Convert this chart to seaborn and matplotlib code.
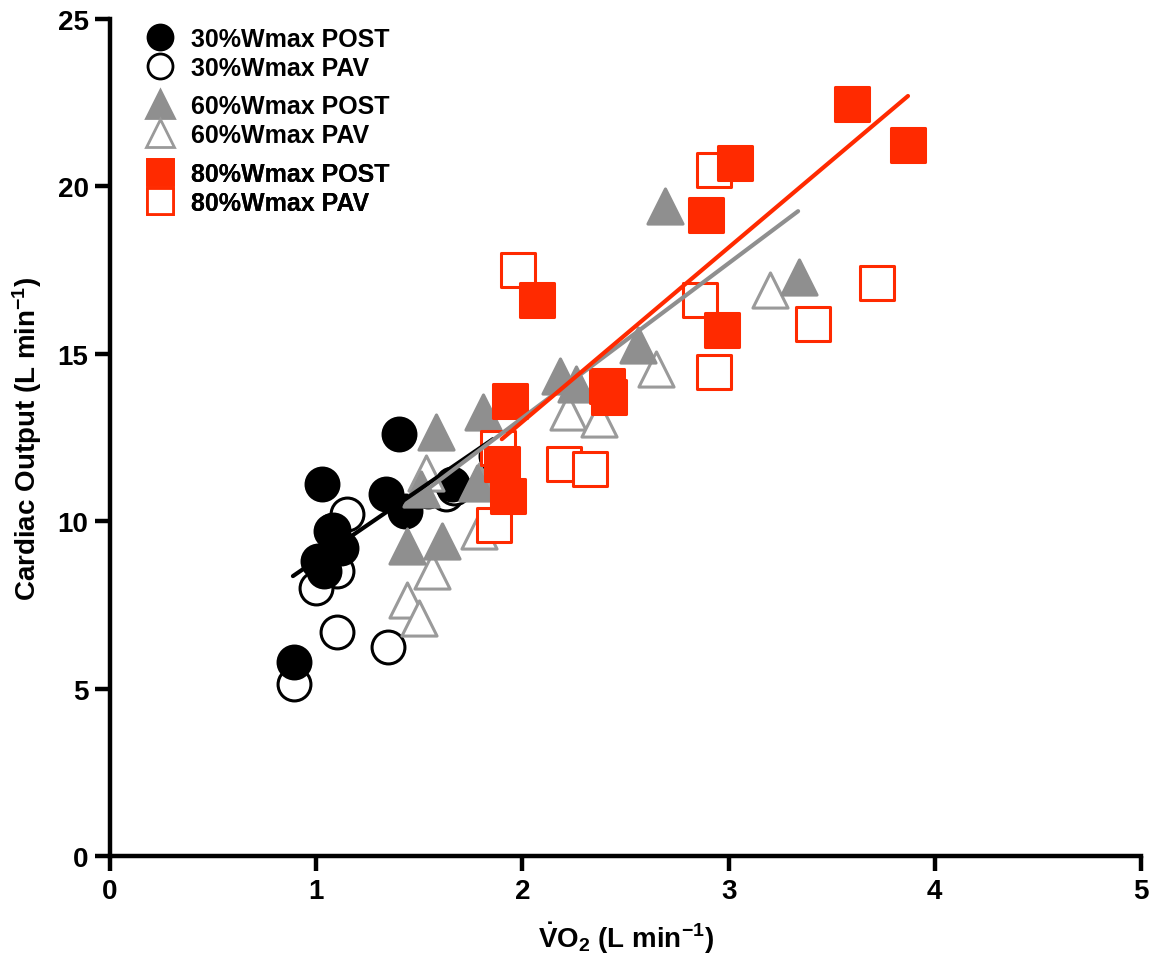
import numpy as np
import pandas as pd
import matplotlib
matplotlib.use("Agg")
import matplotlib.pyplot as plt
from matplotlib.lines import Line2D
import seaborn as sns

# -----------------------------
# Data
# -----------------------------
vo2_30_post = [0.89, 1.03, 1.40, 1.34, 1.43, 1.08, 1.12, 1.01, 1.04, 1.66, 1.87]
co_30_post = [5.8, 11.1, 12.6, 10.8, 10.3, 9.75, 9.2, 8.8, 8.5, 11.1, 11.95]
vo2_30_pav = [1.15, 1.07, 1.10, 1.00, 1.10, 1.35, 0.89, 1.54, 1.63, 1.67]
co_30_pav = [10.2, 9.7, 8.5, 8.0, 6.7, 6.25, 5.15, 10.9, 10.8, 11.0]

vo2_60_post = [1.58, 1.44, 1.61, 1.51, 1.81, 1.78, 2.18, 2.26, 2.56, 2.69, 3.34]
co_60_post = [12.65, 9.25, 9.4, 10.95, 13.25, 11.15, 14.35, 14.1, 15.25, 19.4, 17.3]
vo2_60_pav = [1.53, 1.56, 1.44, 1.50, 1.79, 2.22, 2.37, 2.65, 3.20, 1.79]
co_60_pav = [11.45, 8.5, 7.65, 7.1, 9.7, 13.25, 13.05, 14.55, 16.9, 11.2]

vo2_80_post = [1.94, 2.07, 1.90, 1.93, 2.41, 2.42, 2.97, 3.60, 3.87, 3.03, 2.89]
co_80_post = [13.6, 16.6, 11.7, 10.75, 14.05, 13.7, 15.7, 22.45, 21.25, 20.7, 19.15]
vo2_80_pav = [1.98, 1.88, 2.20, 2.33, 1.86, 2.86, 2.93, 2.93, 3.72, 3.41]
co_80_pav = [17.5, 12.2, 11.7, 11.55, 9.9, 16.6, 14.45, 20.5, 17.1, 15.9]

# fitted regression lines (end points as drawn in the figure)
fit_intensity = ["30", "30", "60", "60", "80", "80"]
fit_vo2 = [0.887, 1.857, 1.43, 3.337, 1.90, 3.87]
fit_co = [8.36, 12.45, 10.45, 19.26, 12.45, 22.70]

RED = "#ff2a00"
GRAY = "#8f8f8f"
LGRAY = "#9a9a9a"

groups = [
    # label, vo2, co, marker, face, edge
    ("30%Wmax PAV", vo2_30_pav, co_30_pav, "o", "white", "black"),
    ("30%Wmax POST", vo2_30_post, co_30_post, "o", "black", "black"),
    ("60%Wmax PAV", vo2_60_pav, co_60_pav, "^", "white", LGRAY),
    ("60%Wmax POST", vo2_60_post, co_60_post, "^", GRAY, GRAY),
    ("80%Wmax PAV", vo2_80_pav, co_80_pav, "s", "white", RED),
    ("80%Wmax POST", vo2_80_post, co_80_post, "s", RED, RED),
]
line_colors = {"30": "black", "60": GRAY, "80": RED}

rows = []
for label, xs, ys, *_ in groups:
    for x, y in zip(xs, ys):
        rows.append({"group": label, "vo2": x, "co": y})
df = pd.DataFrame(rows)
fits = pd.DataFrame({"intensity": fit_intensity, "vo2": fit_vo2, "co": fit_co})

# -----------------------------
# Style
# -----------------------------
sns.set_style("ticks")
plt.rcParams["font.family"] = ["Liberation Sans", "DejaVu Sans"]
plt.rcParams["font.weight"] = "bold"
plt.rcParams["text.color"] = "black"
plt.rcParams["axes.labelcolor"] = "black"
plt.rcParams["xtick.color"] = "black"
plt.rcParams["ytick.color"] = "black"
plt.rcParams["axes.edgecolor"] = "black"
plt.rcParams["mathtext.fontset"] = "custom"
plt.rcParams["mathtext.rm"] = "Liberation Sans:bold"
plt.rcParams["mathtext.bf"] = "Liberation Sans:bold"
plt.rcParams["mathtext.it"] = "Liberation Sans:bold"

fig = plt.figure(figsize=(11.51, 9.70), dpi=100)
ax = fig.add_axes([0.0956, 0.1165, 0.8957, 0.8629])

# -----------------------------
# Scatter
# -----------------------------
sizes = {"o": 560, "^": 640, "s": 620}
for label, xs, ys, marker, face, edge in groups:
    sub = df[df["group"] == label]
    sns.scatterplot(data=sub, x="vo2", y="co", marker=marker, s=sizes[marker],
                    color=face, edgecolor=edge, linewidth=2.2, ax=ax,
                    legend=False, zorder=3, clip_on=False)

# -----------------------------
# Regression lines per intensity
# -----------------------------
for inten, col in line_colors.items():
    sub = fits[fits["intensity"] == inten]
    sns.lineplot(data=sub, x="vo2", y="co", color=col, linewidth=3,
                 solid_capstyle="round", zorder=4, ax=ax, legend=False)

# -----------------------------
# Axes
# -----------------------------
ax.set_xlim(0, 5)
ax.set_ylim(0, 25)
ax.set_xticks([0, 1, 2, 3, 4, 5])
ax.set_yticks([0, 5, 10, 15, 20, 25])
sns.despine(ax=ax)
for sp in ["left", "bottom"]:
    ax.spines[sp].set_linewidth(3.2)
ax.tick_params(axis="both", width=3.2, length=10.5, labelsize=20, pad=5,
               colors="black")
for t in ax.get_xticklabels() + ax.get_yticklabels():
    t.set_fontweight("bold")
ax.set_xlabel(r"$\dot{\mathrm{V}}\mathrm{O_2}$ (L min$^{\mathrm{-1}}$)",
              fontsize=20, fontweight="bold", labelpad=12)
ax.set_ylabel(r"Cardiac Output (L min$^{\mathrm{-1}}$)",
              fontsize=20, fontweight="bold", labelpad=10)

# -----------------------------
# Legend (three blocks)
# -----------------------------
def handle(marker, face, edge, ms):
    return Line2D([], [], linestyle="none", marker=marker, markersize=ms,
                  markerfacecolor=face, markeredgecolor=edge, markeredgewidth=2)

legend_sizes = {"o": 18, "^": 20, "s": 19}
tops = [0.984, 0.915, 0.845]
for i, top in enumerate(tops):
    pav = groups[2 * i]
    post = groups[2 * i + 1]
    hs = [handle(post[3], post[4], post[5], legend_sizes[post[3]]),
          handle(pav[3], pav[4], pav[5], legend_sizes[pav[3]])]
    leg = ax.legend(hs, [post[0], pav[0]], loc="upper left",
                    bbox_to_anchor=(0.117, top), bbox_transform=fig.transFigure,
                    frameon=False, borderpad=0, handletextpad=0.75,
                    labelspacing=0.2, handlelength=1.0,
                    prop={"size": 18, "weight": "bold"})
    ax.add_artist(leg)

fig.savefig("out.png", dpi=100)
